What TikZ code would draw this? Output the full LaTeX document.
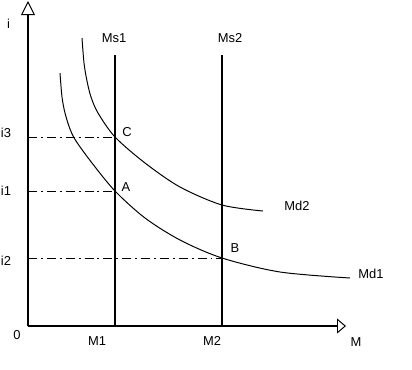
\documentclass[tikz,border=0pt]{standalone}
\usepackage{fontspec}
\setmainfont{Liberation Sans}
\usetikzlibrary{arrows.meta}

\begin{document}
\begin{tikzpicture}[
    x=0.025cm, y=0.025cm,
    font=\fontsize{9.2}{11}\selectfont,
    axis/.style={line width=2.1pt},
    supply/.style={line width=1.4pt},
    demand/.style={line width=0.7pt},
    level/.style={line width=0.7pt, dash pattern=on 6.4pt off 2.8pt on 1.4pt off 2.8pt},
    lab/.style={inner sep=0pt}
]
\useasboundingbox (-28,-43) rectangle (384,326);

% axes end points
\coordinate (O) at (0,0);
\coordinate (itop) at (0,325);
\coordinate (Mend) at (318,0);

% money supply lines
\coordinate (M1) at (87,0);
\coordinate (M2) at (194,0);
\coordinate (Ms1top) at (87,271);
\coordinate (Ms2top) at (194,271);

% equilibrium points and rates
\coordinate (C) at (87,189);
\coordinate (A) at (87,135);
\coordinate (B) at (194,68);
\coordinate (i3) at (0,189);
\coordinate (i1) at (0,135);
\coordinate (i2) at (0,68);

\draw[level] (i3) -- (C);
\draw[level] (i1) -- (A);
\draw[level] (i2) -- (B);

% demand curves
\draw[demand] plot[smooth, tension=0.5] coordinates {(32,253) (34,229) (37,213) (42,197) (48,185) (64,163) (A) (117,108) (152,86) (B) (252,54) (322,48)};
\draw[demand] plot[smooth, tension=0.5] coordinates {(54,288) (56,263) (59,245) (63,229) (70,213) (C) (117,163) (152,139) (194,121) (235,115)};

\draw[supply] (M1) -- (Ms1top);
\draw[supply] (M2) -- (Ms2top);

\draw[axis, -{Triangle[open, length=0.35cm, width=0.35cm, line width=0.7pt]}] (O) -- (itop);
\draw[axis, -{Triangle[open, length=0.225cm, width=0.375cm, line width=0.7pt]}] (O) -- (Mend);

% labels
\node[lab] (li) at (-19.5,302) {i};
\node[lab] (lMs1) at (86,288) {Ms1};
\node[lab] (lMs2) at (202,288) {Ms2};
\node[lab] (li3) at (-22,193) {i3};
\node[lab] (li1) at (-22,135) {i1};
\node[lab] (li2) at (-22,65) {i2};
\node[lab] (lC) at (99,194) {C};
\node[lab] (lA) at (98,139) {A};
\node[lab] (lB) at (207,78) {B};
\node[lab] (lMd2) at (269,120) {Md2};
\node[lab] (lMd1) at (343,52) {Md1};
\node[lab] (l0) at (-11,-9) {0};
\node[lab] (lM1) at (69,-15) {M1};
\node[lab] (lM2) at (184,-15) {M2};
\node[lab] (lM) at (328,-16) {M};
\end{tikzpicture}
\end{document}
